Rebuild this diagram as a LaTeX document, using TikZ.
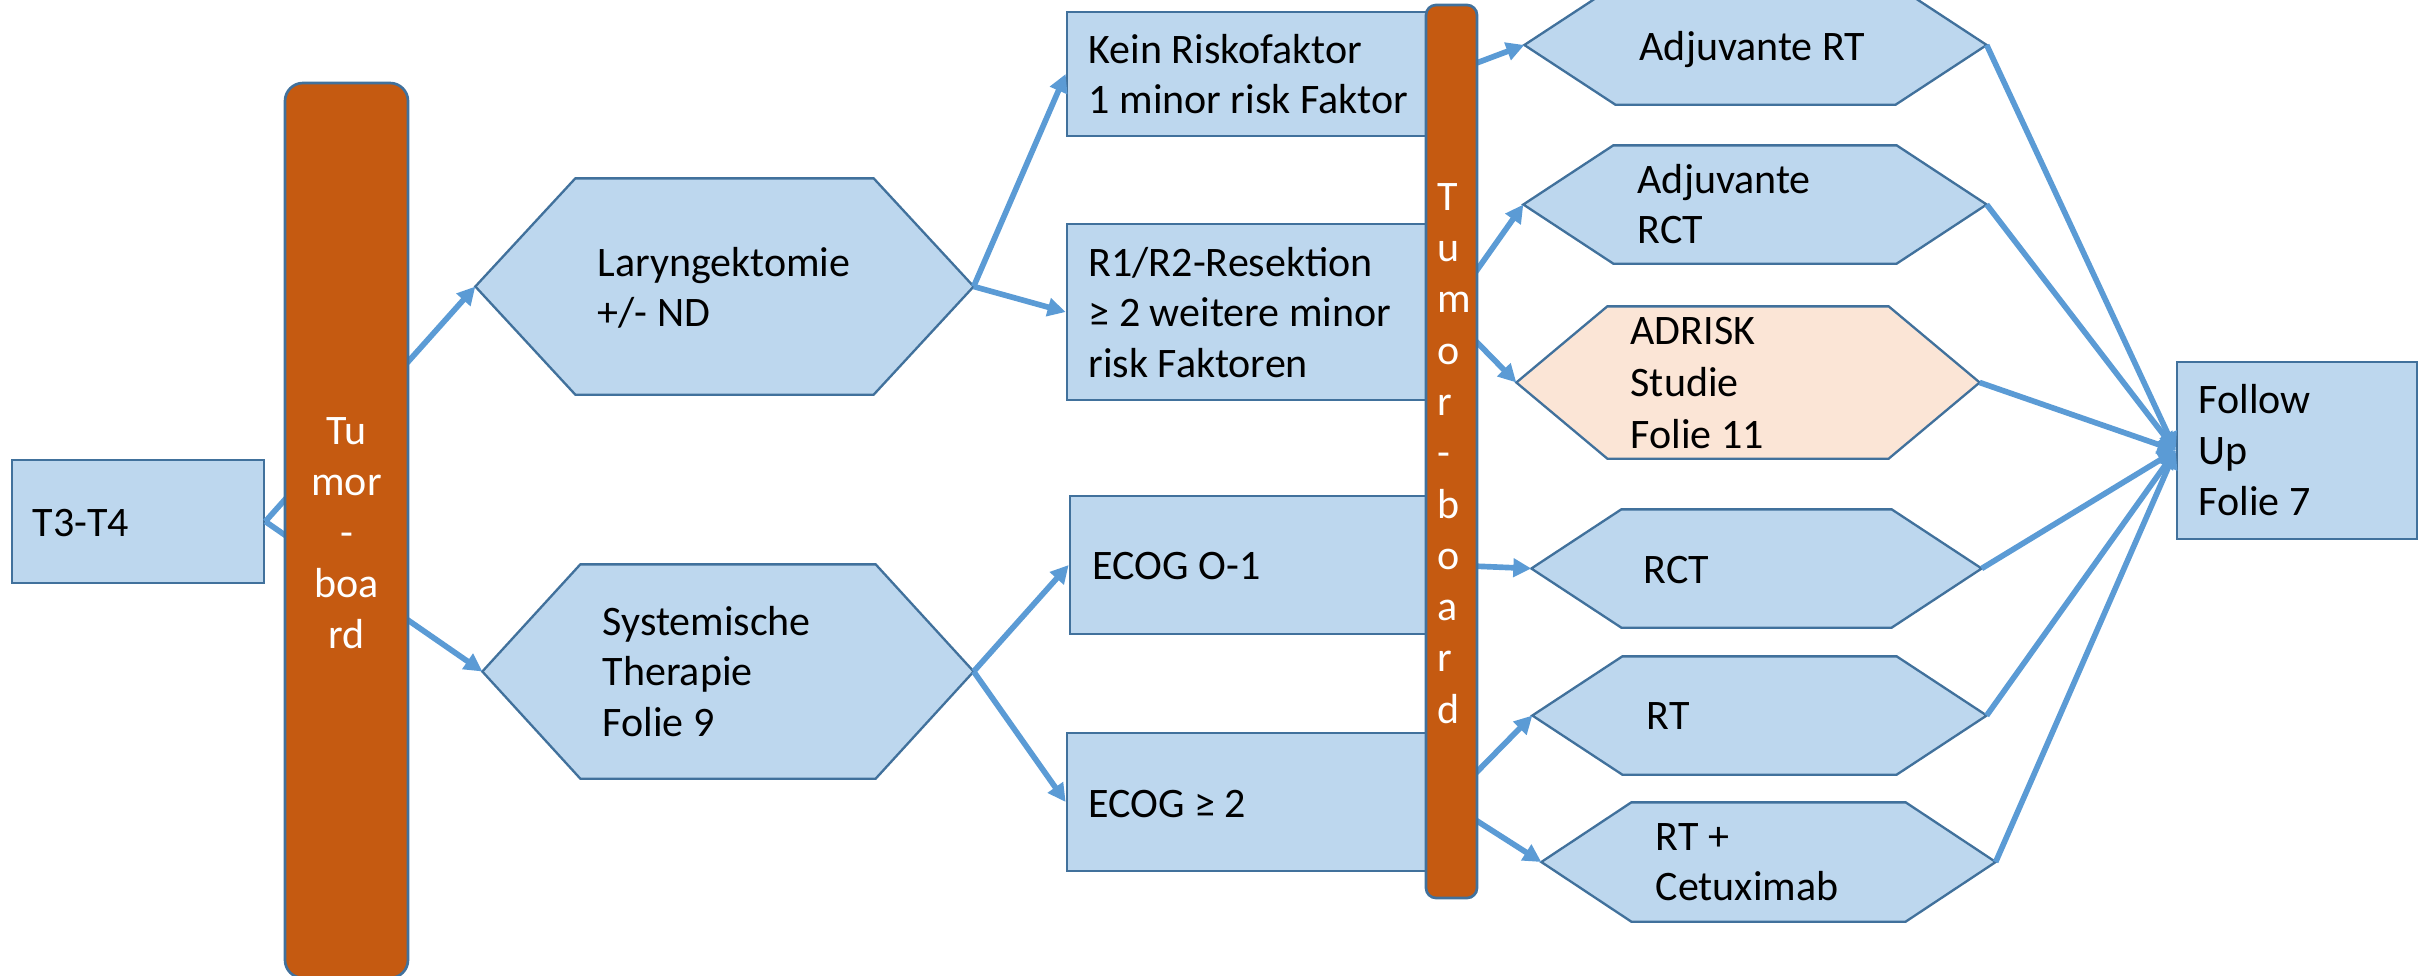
\documentclass[tikz,border=0pt]{standalone}
\usepackage{fontspec}
\setmainfont{Carlito}
\usetikzlibrary{arrows.meta,fit}
\definecolor{boxfill}{HTML}{BDD7EE}
\definecolor{bord}{HTML}{41719C}
\definecolor{arrowc}{HTML}{5B9BD5}
\definecolor{tbor}{HTML}{C55A11}
\definecolor{peach}{HTML}{FBE5D6}
\newcommand\ml[1]{\begin{tabular}[t]{@{}l@{}}#1\end{tabular}}
\newcommand\mc[1]{\begin{tabular}[t]{@{}c@{}}#1\end{tabular}}
% name, x left tip, inset, x right tip, y top, y bottom, fill
\newcommand\hexa[7]{%
  \node[fit={(#2,#5) (#4,#6)}, inner sep=0pt, draw=none] (#1) {};
  \draw[hexline, fill=#7] (#1.west) -- ([xshift=#3*0.3pt]#1.north west) -- ([xshift=-#3*0.3pt]#1.north east) -- (#1.east) -- ([xshift=-#3*0.3pt]#1.south east) -- ([xshift=#3*0.3pt]#1.south west) -- cycle;
}
\tikzset{
  box/.style={fill=boxfill, draw=bord, line width=0.8pt, inner sep=0pt},
  hexline/.style={draw=bord, line width=0.7pt, line join=miter},
  bar/.style={fill=tbor, draw=bord, line width=0.8pt, inner sep=0pt},
  arr/.style={draw=arrowc, line width=1.7pt, -{Triangle[length=5.4pt,width=5.4pt]}},
  txt/.style={inner sep=0pt, anchor=base west, font=\fontsize{12.6}{15.2}\selectfont, text=black}
}
\begin{document}
\begin{tikzpicture}[x=0.3pt,y=-0.3pt]
\useasboundingbox (0,0) rectangle (2419,976);
\clip (0,0) rectangle (2419,976);
% boxes
\node[box, fit={(12,460) (264,583)}] (t34) {};
\node[box, fit={(1067,12) (1446,136)}] (kein) {};
\node[box, fit={(1067,224) (1446,400)}] (r1) {};
\node[box, fit={(1070,496) (1446,634)}] (ecoga) {};
\node[box, fit={(1067,733) (1446,871)}] (ecogb) {};
\node[box, fit={(2177,362) (2417,539)}] (follow) {};
% hexagons
\hexa{lary}{476}{100}{973}{179}{394}{boxfill}
\hexa{sys}{483}{98}{973}{565}{778}{boxfill}
\hexa{adjrt}{1525}{91}{1986}{-14}{104}{boxfill}
\hexa{adjrct}{1524}{90}{1986}{146}{263}{boxfill}
\hexa{adrisk}{1517}{91}{1979}{307}{458}{peach}
\hexa{rct}{1532}{90}{1981}{510}{627}{boxfill}
\hexa{rt}{1533}{90}{1986}{657}{774}{boxfill}
\hexa{rtc}{1542}{90}{1995}{803}{921}{boxfill}
% connectors
\draw[arr] (t34.east) -- (lary.west);
\draw[arr] (t34.east) -- (sys.west);
\draw[arr] (lary.east) -- (kein.west);
\draw[arr] (lary.east) -- (r1.west);
\draw[arr] (sys.east) -- (ecoga.west);
\draw[arr] (sys.east) -- (ecogb.west);
\draw[arr] (kein.east) -- (adjrt.west);
\draw[arr] (r1.east) -- (adjrct.west);
\draw[arr] (r1.east) -- (adrisk.west);
\draw[arr] (ecoga.east) -- (rct.west);
\draw[arr] (ecogb.east) -- (rt.west);
\draw[arr] (ecogb.east) -- (rtc.west);
\foreach \h in {adjrt,adjrct,adrisk,rct,rt,rtc}
  \draw[arr] (\h.east) -- (follow.west);
% tumor boards
\node[bar, rounded corners=5.4pt, fit={(285,83) (408,978)}] (tbl) {};
\node[bar, rounded corners=3pt, fit={(1426,5) (1477,898)}] (tbr) {};
% texts
\node[txt] (t34t) at (32,536) {T3-T4};
\node[txt] (laryt) at (597,276) {\ml{Laryngektomie\\+/- ND}};
\node[txt] (syst) at (602,635) {\ml{Systemische\\Therapie\\Folie 9}};
\node[txt] (keint) at (1088,63) {\ml{Kein Riskofaktor\\1 minor risk Faktor}};
\node[txt] (r1t) at (1088,276) {\ml{R1/R2-Resektion\\≥ 2 weitere minor\\risk Faktoren}};
\node[txt] (ecogat) at (1092,579) {ECOG O-1};
\node[txt] (ecogbt) at (1088,817) {ECOG ≥ 2};
\node[txt] (adjrtt) at (1639,60) {Adjuvante RT};
\node[txt] (adjrctt) at (1637,193) {\ml{Adjuvante\\RCT}};
\node[txt, font=\fontsize{12.6}{15.6}\selectfont] (adriskt) at (1630,344) {\ml{ADRISK\\Studie\\Folie 11}};
\node[txt] (rctt) at (1643,583) {RCT};
\node[txt] (rtt) at (1646,729) {RT};
\node[txt] (rtct) at (1655,850) {\ml{RT +\\Cetuximab}};
\node[txt, font=\fontsize{12.6}{15.3}\selectfont] (followt) at (2198,413) {\ml{Follow\\Up\\Folie 7}};
\node[txt, anchor=base, text=white, font=\fontsize{12.6}{15.3}\selectfont] (tblt) at (346.5,444) {\mc{Tu\\mor\\-\\boa\\rd}};
\node[txt, text=white, font=\fontsize{12.6}{15.4}\selectfont] (tbrt) at (1437,210) {\ml{T\\u\\m\\o\\r\\-\\b\\o\\a\\r\\d}};
\end{tikzpicture}
\end{document}
